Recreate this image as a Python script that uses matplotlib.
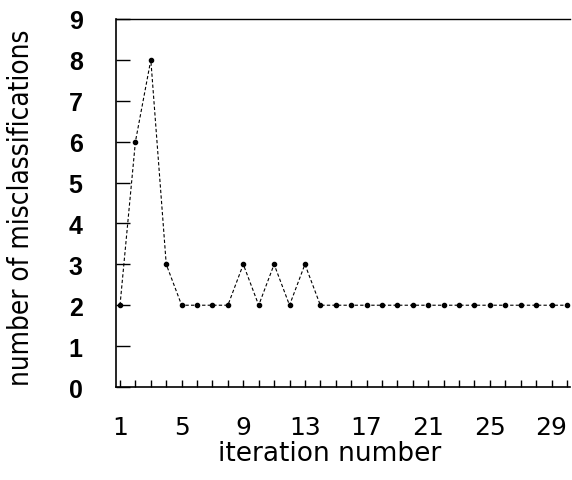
import matplotlib
matplotlib.use("Agg")
import matplotlib.pyplot as plt

iterations = list(range(1, 31))
misclassifications = [2, 6, 8, 3, 2, 2, 2, 2, 3, 2, 3, 2, 3, 2,
                      2, 2, 2, 2, 2, 2, 2, 2, 2, 2, 2, 2, 2, 2, 2, 2]
xtick_labels = [1, 5, 9, 13, 17, 21, 25, 29]
ytick_labels = list(range(0, 10))

plt.rcParams['font.family'] = ['Liberation Sans', 'DejaVu Sans']

fig = plt.figure(figsize=(5.72, 4.81), dpi=100)
ax = fig.add_axes([116/572, 1-388/481, (570-116)/572, (388-20)/481])

ax.plot(iterations, misclassifications, color='black', linestyle=(0, (3, 2)),
        linewidth=0.8, marker='o', markersize=3)

ax.set_xlim(0.74, 30.2)
ax.set_ylim(0, 9)

ax.tick_params(axis='x', direction='in', length=5, width=1, pad=20)
ax.tick_params(axis='y', direction='in', length=10, width=1, pad=24)

ax.set_xticks(iterations)
ax.set_xticklabels([str(i) if i in xtick_labels else '' for i in iterations],
                   fontsize=18, family='DejaVu Sans')
ax.set_yticks(ytick_labels)
ax.set_yticklabels([str(v) for v in ytick_labels], fontsize=18, fontweight='bold')

ax.spines['right'].set_visible(False)
for s in ['left', 'bottom']:
    ax.spines[s].set_linewidth(1.2)
ax.spines['top'].set_linewidth(1.0)

ax.set_xlabel('iteration number', fontsize=19, family='DejaVu Sans', labelpad=1)
ax.xaxis.label.set_x((330 - 116) / 454)
ax.set_ylabel('number of misclassifications', fontsize=20, family='DejaVu Sans',
              fontstretch='condensed', labelpad=24)
ax.yaxis.label.set_y((388 - 208) / 368)

fig.savefig('out.png', dpi=100)
